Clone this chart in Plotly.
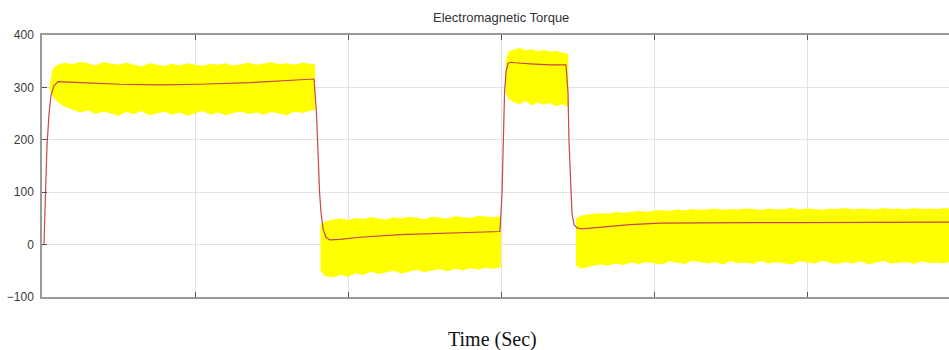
import plotly.graph_objects as go

# ---------------- data ----------------
# Filtered torque (red line)
t_line = [0.0, 0.013, 0.023, 0.033, 0.046, 0.059, 0.078, 0.105, 0.248, 0.51, 0.771, 1.033,
          1.359, 1.621, 1.778, 1.794, 1.804, 1.814, 1.824, 1.837, 1.856, 1.882, 1.948, 2.078,
          2.34, 2.667, 2.993, 3.007, 3.013, 3.023, 3.033, 3.046, 3.065, 3.092, 3.19, 3.32,
          3.425, 3.438, 3.444, 3.454, 3.464, 3.477, 3.497, 3.529, 3.647, 3.843, 4.039, 4.301,
          4.627, 4.954, 5.281, 5.608, 5.928]
torque_line = [0, 0, 100, 190, 250, 285, 303, 311, 309, 306, 305, 306,
               309, 313, 316, 250, 170, 100, 60, 30, 14, 9, 10, 14,
               19, 22, 25, 100, 200, 290, 330, 346, 348, 347, 345, 343,
               343, 290, 200, 110, 60, 38, 32, 30, 33, 38, 41, 42,
               42, 42, 42, 43, 43]

# Raw torque ripple envelope (yellow band), four segments
t_a = [0.05, 0.07, 0.1, 0.15, 0.2, 0.25, 0.3, 0.35, 0.4, 0.45, 0.5, 0.55, 0.6, 0.65, 0.7,
       0.75, 0.8, 0.85, 0.9, 0.95, 1.0, 1.05, 1.1, 1.15, 1.2, 1.25, 1.3, 1.35, 1.4, 1.45,
       1.5, 1.55, 1.6, 1.65, 1.7, 1.75, 1.785]
upper_a = [305, 335, 343, 347, 344, 349, 346, 342, 348, 345, 343, 347, 344, 340, 346,
           343, 341, 345, 342, 346, 344, 341, 345, 343, 346, 342, 344, 347, 343, 345,
           348, 344, 346, 343, 347, 345, 344]
lower_a = [295, 282, 272, 263, 258, 252, 256, 249, 254, 250, 246, 253, 249, 255, 247,
           251, 254, 248, 252, 246, 250, 255, 248, 252, 247, 251, 254, 249, 252, 248,
           253, 250, 247, 254, 251, 255, 258]

t_b = [1.82, 1.85, 1.9, 1.95, 2.0, 2.05, 2.1, 2.15, 2.2, 2.25, 2.3, 2.35, 2.4, 2.45, 2.5,
       2.55, 2.6, 2.65, 2.7, 2.75, 2.8, 2.85, 2.9, 2.95, 3.0]
upper_b = [38, 44, 48, 50, 47, 51, 49, 52, 50, 48, 52, 50, 53, 51, 49,
           53, 52, 50, 54, 52, 51, 55, 53, 52, 54]
lower_b = [-50, -60, -63, -58, -61, -55, -58, -52, -56, -53, -50, -55, -51, -48, -53,
           -49, -47, -51, -46, -49, -45, -48, -44, -46, -43]

t_c = [3.03, 3.05, 3.08, 3.12, 3.16, 3.2, 3.24, 3.28, 3.32, 3.36, 3.4, 3.44]
upper_c = [350, 368, 372, 375, 371, 373, 369, 372, 368, 370, 366, 364]
lower_c = [290, 278, 272, 268, 274, 266, 271, 267, 270, 264, 268, 262]

t_d = [3.49, 3.52, 3.55, 3.6, 3.65, 3.7, 3.75, 3.8, 3.85, 3.9, 3.95, 4.0, 4.05, 4.1, 4.15,
       4.2, 4.25, 4.3, 4.35, 4.4, 4.45, 4.5, 4.55, 4.6, 4.65, 4.7, 4.75, 4.8, 4.85, 4.9,
       4.95, 5.0, 5.05, 5.1, 5.15, 5.2, 5.25, 5.3, 5.35, 5.4, 5.45, 5.5, 5.55, 5.6, 5.65,
       5.7, 5.75, 5.8, 5.85, 5.9, 5.93]
upper_d = [50, 55, 57, 58, 60, 59, 62, 61, 63, 64, 62, 65, 66, 64, 67, 65, 68, 66, 67, 69,
           66, 68, 67, 69, 68, 66, 69, 67, 68, 70, 67, 69, 68, 66, 69, 68, 70, 67, 69, 68,
           67, 70, 68, 69, 67, 70, 68, 69, 68, 70, 69]
lower_d = [-40, -46, -44, -41, -38, -40, -36, -39, -34, -37, -33, -36, -38, -32, -35, -37,
           -31, -34, -36, -33, -38, -32, -35, -34, -37, -31, -36, -33, -35, -38, -32, -34,
           -36, -31, -35, -37, -33, -36, -32, -38, -34, -31, -36, -35, -33, -37, -32, -35,
           -34, -36, -33]

y_ticks = [-100, 0, 100, 200, 300, 400]
x_ticks = [1, 2, 3, 4, 5]

# ---------------- figure ----------------
band_x, band_y = [], []
for tt, up, lo in [(t_a, upper_a, lower_a), (t_b, upper_b, lower_b),
                   (t_c, upper_c, lower_c), (t_d, upper_d, lower_d)]:
    assert len(tt) == len(up) == len(lo)
    band_x += list(tt) + list(tt[::-1]) + [None]
    band_y += list(up) + list(lo[::-1]) + [None]

fig = go.Figure()
fig.add_trace(go.Scatter(x=band_x, y=band_y, mode="lines", fill="toself",
                         fillcolor="#ffff00", line=dict(width=0, color="#ffff00"),
                         hoverinfo="skip", showlegend=False))
fig.add_trace(go.Scatter(x=t_line, y=torque_line, mode="lines",
                         line=dict(color="#c8464c", width=1.2), showlegend=False))

W, H = 949, 350
L, R, T, B = 42, 0, 35, 53
ph = H - T - B
pw = W - L - R

fig.update_layout(
    width=W, height=H,
    margin=dict(l=L, r=R, t=T, b=B, autoexpand=False),
    paper_bgcolor="white", plot_bgcolor="white",
    font=dict(family="Liberation Sans, Arial, sans-serif", size=12, color="#3a3a3a"),
    xaxis=dict(range=[0, 5.928], tickvals=x_ticks, showticklabels=False,
               ticks="inside", ticklen=5, tickcolor="#555", tickwidth=1,
               showgrid=True, gridcolor="#e2e2e2", gridwidth=1,
               showline=True, linecolor="#9a9a9a", linewidth=2, mirror="ticks",
               zeroline=False, automargin=False),
    yaxis=dict(range=[-100, 400], tickvals=y_ticks,
               ticks="inside", ticklen=5, tickcolor="#555", tickwidth=1,
               showgrid=True, gridcolor="#e2e2e2", gridwidth=1,
               showline=True, linecolor="#9a9a9a", linewidth=1.5,
               zeroline=False, ticklabelstandoff=4, automargin=False),
    annotations=[
        dict(text="Electromagnetic Torque", xref="paper", yref="paper",
             x=(501 - L) / pw, y=(H - B - 17) / ph, xanchor="center", yanchor="middle",
             showarrow=False, font=dict(family="Liberation Sans, Arial, sans-serif",
                                        size=13, color="#333")),
        dict(text="Time (Sec)", xref="paper", yref="paper",
             x=(492 - L) / pw, y=(H - B - 340) / ph, xanchor="center", yanchor="middle",
             showarrow=False, font=dict(family="Liberation Serif, Times New Roman, serif",
                                        size=20, color="#111")),
    ],
)

fig.write_html("out.html", config={"displayModeBar": False},
               post_script="document.body.style.margin='0';document.body.style.overflow='hidden';")
